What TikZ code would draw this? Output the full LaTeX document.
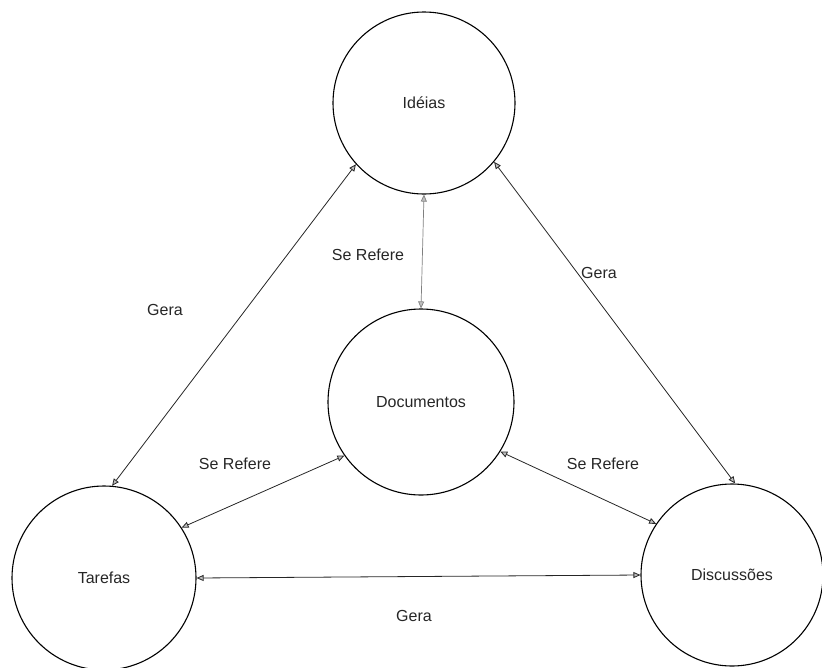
\documentclass[tikz,border=0pt]{standalone}
\usepackage{fontspec}
\setmainfont{Liberation Sans}
\usetikzlibrary{arrows.meta}
\begin{document}
\begin{tikzpicture}[x=1pt,y=-1pt,
  ent/.style={circle,draw=black,line width=1.1pt,inner sep=0pt,font=\fontsize{16}{18}\selectfont,text=black!85},
  link/.style={draw=black!85,line width=0.8pt,{Triangle[length=7pt,width=6pt,fill=gray!50]}-{Triangle[length=7pt,width=6pt,fill=gray!50]}},
  lbl/.style={font=\fontsize{16}{18}\selectfont,text=black!85,inner sep=0pt}]
\useasboundingbox (0,0) rectangle (822,667);
\node[ent,minimum size=182pt] (ide) at (424,103) {Idéias};
\node[ent,minimum size=186pt] (doc) at (421,402) {Documentos};
\node[ent,minimum size=184pt] (tar) at (104,578) {Tarefas};
\node[ent,minimum size=182pt] (dis) at (732,575) {Discussões};
\draw[link] (ide.222) -- (tar.85);
\draw[link,draw=gray,line width=0.7pt] (ide.270) -- (doc.90);
\draw[link] (ide.320) -- (dis.88);
\draw[link] (doc.215) -- (tar.33);
\draw[link] (doc.328) -- (dis.146);
\draw[link] (tar.0) -- (dis.180);
\node[lbl] (l1) at (165,310) {Gera};
\node[lbl] (l2) at (599,273) {Gera};
\node[lbl] (l3) at (368,255) {Se Refere};
\node[lbl] (l4) at (235,464) {Se Refere};
\node[lbl] (l5) at (603,464) {Se Refere};
\node[lbl] (l6) at (414,616) {Gera};
\end{tikzpicture}
\end{document}
